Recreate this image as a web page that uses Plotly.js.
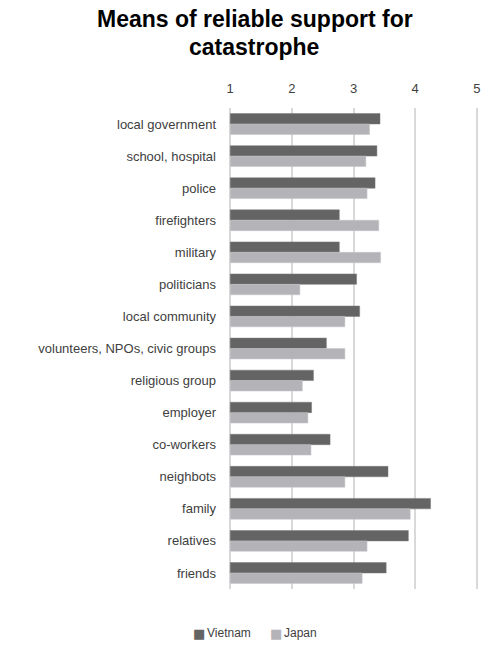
<!DOCTYPE html>
<html>
<head>
<meta charset="utf-8">
<script src="https://cdn.plot.ly/plotly-3.0.1.min.js"></script>
<style>html,body{margin:0;padding:0;background:#fff;}#chart{width:482px;height:645px;}</style>
</head>
<body>
<div id="chart"></div>
<script>
const categories = ["local government","school, hospital","police","firefighters","military","politicians","local community","volunteers, NPOs, civic groups","religious group","employer","co-workers","neighbots","family","relatives","friends"];
const vietnam = [3.43,3.38,3.35,2.77,2.77,3.05,3.10,2.56,2.35,2.32,2.62,3.56,4.25,3.89,3.53];
const japan   = [3.26,3.20,3.22,3.41,3.44,2.13,2.86,2.86,2.17,2.26,2.31,2.86,3.92,3.22,3.14];
const xTicks = [1,2,3,4,5];
const titleLines = ["Means of reliable support for","catastrophe"];
const seriesNames = ["Vietnam","Japan"];
const seriesColors = ["#646464","#b4b4b8"];

const W = 482, H = 645, L = 229, R = 4, T = 108, B = 56;
const pw = W - L - R, ph = H - T - B;
const px = x => (x - L) / pw;
const py = y => (H - B - y) / ph;

const base = 1;
const traces = [
  {type:'bar', orientation:'h', name:seriesNames[0], y:categories, x:vietnam.map(v=>v-base), base:base,
   marker:{color:seriesColors[0], line:{color:'#7a7a7a', width:0.5}}, hoverinfo:'skip'},
  {type:'bar', orientation:'h', name:seriesNames[1], y:categories, x:japan.map(v=>v-base), base:base,
   marker:{color:seriesColors[1], line:{color:'#c4c4c8', width:0.5}}, hoverinfo:'skip'}
];
const fontFam = '"Liberation Sans", Arial, sans-serif';
const annotations = [
  {text:'<b>'+titleLines[0].split(' ').join('&nbsp;')+'</b>', xref:'paper', yref:'paper', x:px(254.5), y:py(19), xanchor:'center', yanchor:'middle', showarrow:false, font:{size:23, color:'#000', family:fontFam}},
  {text:'<b>'+titleLines[1]+'</b>', xref:'paper', yref:'paper', x:px(253.5), y:py(47), xanchor:'center', yanchor:'middle', showarrow:false, font:{size:23, color:'#000', family:fontFam}},
  {text:'■', xref:'paper', yref:'paper', x:px(198.5), y:py(633), xanchor:'center', yanchor:'middle', showarrow:false, font:{size:13, color:seriesColors[0], family:'"DejaVu Sans"'}},
  {text:seriesNames[0], xref:'paper', yref:'paper', x:px(205), y:py(633), xanchor:'left', yanchor:'middle', showarrow:false, font:{size:12, color:'#404040', family:fontFam}},
  {text:'■', xref:'paper', yref:'paper', x:px(276), y:py(633), xanchor:'center', yanchor:'middle', showarrow:false, font:{size:13, color:seriesColors[1], family:'"DejaVu Sans"'}},
  {text:seriesNames[1], xref:'paper', yref:'paper', x:px(282), y:py(633), xanchor:'left', yanchor:'middle', showarrow:false, font:{size:12, color:'#404040', family:fontFam}}
];
const layout = {
  width:W, height:H,
  margin:{l:L, r:R, t:T, b:B},
  paper_bgcolor:'#fff', plot_bgcolor:'#fff',
  font:{family:fontFam, size:12, color:'#404040'},
  barmode:'group', bargap:0.35, bargroupgap:0,
  xaxis:{side:'top', range:[0.98,5.02], tickvals:xTicks, ticktext:xTicks.map(String), showgrid:true, gridcolor:'#d9d9d9', gridwidth:2,
         zeroline:false, showline:false, ticks:'', ticklabelstandoff:11, tickfont:{size:13, color:'#404040'}, fixedrange:true},
  yaxis:{autorange:'reversed', showgrid:false, showline:false, zeroline:false, ticks:'', ticklabelstandoff:12, tickfont:{size:13, color:'#404040'}, fixedrange:true},
  showlegend:false,
  annotations:annotations
};
Plotly.newPlot('chart', traces, layout, {displayModeBar:false, staticPlot:true});
</script>
</body>
</html>
